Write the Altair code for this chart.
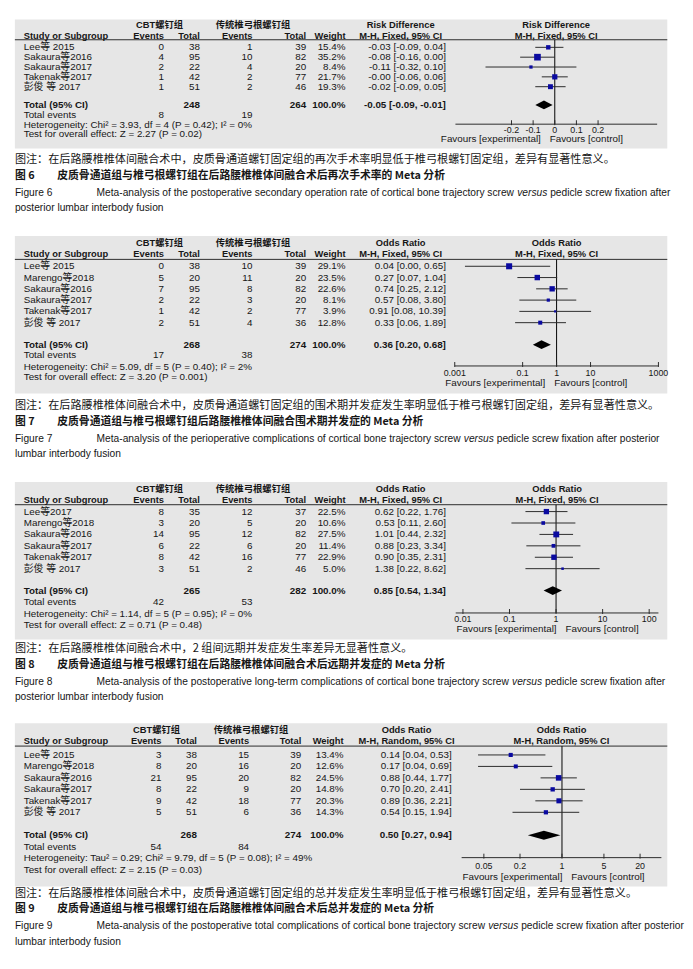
import altair as alt
import pandas as pd

# ---------------- data ----------------
# Figure 6
studies_6 = ["Lee等 2015", "Sakaura等2016", "Sakaura等2017", "Takenak等2017", "彭俊 等 2017"]
cbt_events_6 = [0, 4, 2, 1, 1]
cbt_total_6 = [38, 95, 22, 42, 51]
ctl_events_6 = [1, 10, 4, 2, 2]
ctl_total_6 = [39, 82, 20, 77, 46]
weight_6 = [15.4, 35.2, 8.4, 21.7, 19.3]
est_6 = [-0.03, -0.08, -0.11, -0.00, -0.02]
lo_6 = [-0.09, -0.16, -0.32, -0.06, -0.09]
hi_6 = [0.04, 0.00, 0.10, 0.06, 0.05]
overall_6 = [-0.05, -0.09, -0.01]
group_totals_6 = [248, 264]
total_events_6 = [8, 19]
het_6 = "Heterogeneity: Chi² = 3.93, df = 4 (P = 0.42); I² = 0%"
test_6 = "Test for overall effect: Z = 2.27 (P = 0.02)"
ticks_6 = [-0.2, -0.1, 0, 0.1, 0.2]
tick_labels_6 = ["-0.2", "-0.1", "0", "0.1", "0.2"]

# Figure 7
studies_7 = ["Lee等 2015", "Marengo等2018", "Sakaura等2016", "Sakaura等2017", "Takenak等2017", "彭俊 等 2017"]
cbt_events_7 = [0, 5, 7, 2, 1, 2]
cbt_total_7 = [38, 20, 95, 22, 42, 51]
ctl_events_7 = [10, 11, 8, 3, 2, 4]
ctl_total_7 = [39, 20, 82, 20, 77, 36]
weight_7 = [29.1, 23.5, 22.6, 8.1, 3.9, 12.8]
est_7 = [0.04, 0.27, 0.74, 0.57, 0.91, 0.33]
lo_7 = [0.002, 0.07, 0.25, 0.08, 0.08, 0.06]
hi_7 = [0.65, 1.04, 2.12, 3.80, 10.39, 1.89]
overall_7 = [0.36, 0.20, 0.68]
group_totals_7 = [268, 274]
total_events_7 = [17, 38]
het_7 = "Heterogeneity: Chi² = 5.09, df = 5 (P = 0.40); I² = 2%"
test_7 = "Test for overall effect: Z = 3.20 (P = 0.001)"
ticks_7 = [0.001, 0.1, 1, 10, 1000]
tick_labels_7 = ["0.001", "0.1", "1", "10", "1000"]

# Figure 8
studies_8 = ["Lee等2017", "Marengo等2018", "Sakaura等2016", "Sakaura等2017", "Takenak等2017", "彭俊 等 2017"]
cbt_events_8 = [8, 3, 14, 6, 8, 3]
cbt_total_8 = [35, 20, 95, 22, 42, 51]
ctl_events_8 = [12, 5, 12, 6, 16, 2]
ctl_total_8 = [37, 20, 82, 20, 77, 46]
weight_8 = [22.5, 10.6, 27.5, 11.4, 22.9, 5.0]
est_8 = [0.62, 0.53, 1.01, 0.88, 0.90, 1.38]
lo_8 = [0.22, 0.11, 0.44, 0.23, 0.35, 0.22]
hi_8 = [1.76, 2.60, 2.32, 3.34, 2.31, 8.62]
overall_8 = [0.85, 0.54, 1.34]
group_totals_8 = [265, 282]
total_events_8 = [42, 53]
het_8 = "Heterogeneity: Chi² = 1.14, df = 5 (P = 0.95); I² = 0%"
test_8 = "Test for overall effect: Z = 0.71 (P = 0.48)"
ticks_8 = [0.01, 0.1, 1, 10, 100]
tick_labels_8 = ["0.01", "0.1", "1", "10", "100"]

# Figure 9
studies_9 = ["Lee等 2015", "Marengo等2018", "Sakaura等2016", "Sakaura等2017", "Takenak等2017", "彭俊 等 2017"]
cbt_events_9 = [3, 8, 21, 8, 9, 5]
cbt_total_9 = [38, 20, 95, 22, 42, 51]
ctl_events_9 = [15, 16, 20, 9, 18, 6]
ctl_total_9 = [39, 20, 82, 20, 77, 36]
weight_9 = [13.4, 12.6, 24.5, 14.8, 20.3, 14.3]
est_9 = [0.14, 0.17, 0.88, 0.70, 0.89, 0.54]
lo_9 = [0.04, 0.04, 0.44, 0.20, 0.36, 0.15]
hi_9 = [0.53, 0.69, 1.77, 2.41, 2.21, 1.94]
overall_9 = [0.50, 0.27, 0.94]
group_totals_9 = [268, 274]
total_events_9 = [54, 84]
het_9 = "Heterogeneity: Tau² = 0.29; Chi² = 9.79, df = 5 (P = 0.08); I² = 49%"
test_9 = "Test for overall effect: Z = 2.15 (P = 0.03)"
ticks_9 = [0.05, 0.2, 1, 5, 20]
tick_labels_9 = ["0.05", "0.2", "1", "5", "20"]

# header texts
group_headers = ["CBT螺钉组", "传统椎弓根螺钉组"]
col_headers = ["Study or Subgroup", "Events", "Total", "Events", "Total", "Weight"]
measure_6 = ["Risk Difference", "M-H, Fixed, 95% CI"]
measure_7 = ["Odds Ratio", "M-H, Fixed, 95% CI"]
measure_8 = ["Odds Ratio", "M-H, Fixed, 95% CI"]
measure_9 = ["Odds Ratio", "M-H, Random, 95% CI"]
summary_labels = ["Total (95% CI)", "Total events"]
favours_labels = ["Favours [experimental]", "Favours [control]"]

# captions
note_6 = "图注：在后路腰椎椎体间融合术中，皮质骨通道螺钉固定组的再次手术率明显低于椎弓根螺钉固定组，差异有显著性意义。"
note_7 = "图注：在后路腰椎椎体间融合术中，皮质骨通道螺钉固定组的围术期并发症发生率明显低于椎弓根螺钉固定组，差异有显著性意义。"
note_8 = "图注：在后路腰椎椎体间融合术中，2 组间远期并发症发生率差异无显著性意义。"
note_9 = "图注：在后路腰椎椎体间融合术中，皮质骨通道螺钉固定组的总并发症发生率明显低于椎弓根螺钉固定组，差异有显著性意义。"
title_cn_6 = ["图 6", "皮质骨通道组与椎弓根螺钉组在后路腰椎椎体间融合术后再次手术率的 Meta 分析"]
title_cn_7 = ["图 7", "皮质骨通道组与椎弓根螺钉组后路腰椎椎体间融合围术期并发症的 Meta 分析"]
title_cn_8 = ["图 8", "皮质骨通道组与椎弓根螺钉组在后路腰椎椎体间融合术后远期并发症的 Meta 分析"]
title_cn_9 = ["图 9", "皮质骨通道组与椎弓根螺钉组在后路腰椎椎体间融合术后总并发症的 Meta 分析"]
title_en_6 = ["Figure 6", "Meta-analysis of the postoperative secondary operation rate of cortical bone trajectory screw ",
              "versus", " pedicle screw fixation after", "posterior lumbar interbody fusion"]
title_en_7 = ["Figure 7", "Meta-analysis of the perioperative complications of cortical bone trajectory screw ",
              "versus", " pedicle screw fixation after posterior", "lumbar interbody fusion"]
title_en_8 = ["Figure 8", "Meta-analysis of the postoperative long-term complications of cortical bone trajectory screw ",
              "versus", " pedicle screw fixation after", "posterior lumbar interbody fusion"]
title_en_9 = ["Figure 9", "Meta-analysis of the postoperative total complications of cortical bone trajectory screw ",
              "versus", " pedicle screw fixation after posterior", "lumbar interbody fusion"]

# ---------------- styling / layout ----------------
W = 663
BG = "#e6e6e6"
TXT = "#161616"
BLUE = "#0a0aa0"
LINE = "#2a2a2a"
FONT = "Liberation Sans, Arial, Noto Sans CJK SC, sans-serif"
CJK = "Noto Sans CJK SC, sans-serif"
FS = 10
HDR_FS = 9.5
TICK_FS = 9
NOTE_FS = 11.3
CNT_FS = 11

COLS_A = dict(study=9, e1=151.5, t1=188, e2=241.5, t2=296, w=336, eff=438, cbt_hdr=147, ctl_hdr=242, eff_hdr=392)
COLS_B = dict(study=9, e1=149, t1=185, e2=238, t2=291, w=334, eff=444, cbt_hdr=144, ctl_hdr=240, eff_hdr=398)

L6 = dict(H=131, hdr1=5.8, hdr2=16.6, hline=20.5, y0=28.2, dy=10.0, tot=5.85, ev=6.88, het=7.88, test=8.81,
          axis=7.81, lab_off=6.0, fav_off=15.2, xdom=[-0.459, 0.473], xrange=[447.7, 652.7], log=False,
          null=0, fav_mid=539, fhdr=550, cols=COLS_A)
L7 = dict(H=160, hdr1=7, hdr2=18.7, hline=23.7, y0=30.7, dy=11.46, tot=6.95, ev=7.9, het=8.9, test=9.86,
          axis=8.84, lab_off=7, fav_off=17, xdom=[0.001, 1000], xrange=[447, 654], log=True,
          null=1, fav_mid=543.5, fhdr=550.5, cols=COLS_A)
L8 = dict(H=160, hdr1=7, hdr2=18, hline=23, y0=30, dy=11.6, tot=6.92, ev=7.96, het=8.97, test=9.97,
          axis=8.88, lab_off=6.5, fav_off=16.7, xdom=[0.007, 158], xrange=[448, 654], log=True,
          null=1, fav_mid=555, fhdr=551, cols=COLS_A)
L9 = dict(H=166, hdr1=7.3, hdr2=18.3, hline=23.3, y0=32.3, dy=11.66, tot=7.0, ev=8.04, het=9.03, test=10.03,
          axis=8.95, lab_off=8.4, fav_off=20, xdom=[0.0213, 45.3], xrange=[454, 657], log=True,
          null=1, fav_mid=561, fhdr=555.5, cols=COLS_B)

CAP6 = dict(H=89, y=[12, 28, 45, 61])
CAP7 = dict(H=90, y=[13, 29, 46, 62])
CAP8 = dict(H=85, y=[10, 26, 43, 58])
CAP9 = dict(H=72, y=[8, 23, 40, 56])

# Arial / Liberation Sans advance widths (1/1000 em), used to place the italic word
AW = {' ': 278, '-': 333, ',': 278, '.': 278, '(': 333, ')': 333}
AW.update({c: 556 for c in "0123456789"})
AW.update(dict(zip("ABCDEFGHIJKLMNOPQRSTUVWXYZ",
                   [667, 667, 722, 722, 667, 611, 778, 722, 278, 500, 667, 556, 833, 722, 778, 667, 778, 722,
                    667, 611, 722, 667, 944, 667, 667, 611])))
AW.update(dict(zip("abcdefghijklmnopqrstuvwxyz",
                   [556, 556, 500, 556, 556, 278, 556, 556, 222, 222, 500, 222, 833, 556, 556, 556, 556, 333,
                    500, 278, 556, 500, 722, 500, 500, 500])))


def em(s):
    return sum(AW.get(c, 556) for c in s) / 1000.0


EN_X = 83
EN_END = 666
EN_FS = round((EN_END - EN_X) / em(title_en_6[1] + title_en_6[2] + title_en_6[3]), 2)
CN_X = 43


def fmt_ci(e, l, h):
    return f"{e:.2f} [{l:.2f}, {h:.2f}]"


def txt(df, field, x, y, align="left", bold=False, size=FS, font=FONT, color=TXT, italic=False):
    return alt.Chart(df).mark_text(
        align=align, baseline="middle", font=font, fontSize=size,
        fontWeight="bold" if bold else "normal", fontStyle="italic" if italic else "normal", color=color
    ).encode(x=alt.value(x), y=y, text=alt.Text(f"{field}:N"))


def one(t):
    return pd.DataFrame({"t": [t]})


def build_panel(d, L):
    C = L["cols"]
    n = len(d["studies"])
    ys = alt.Scale(domain=[0, 1], range=[L["y0"], L["y0"] + L["dy"]], nice=False, zero=False)
    if L["log"]:
        xs = alt.Scale(type="log", domain=L["xdom"], range=L["xrange"], nice=False)
    else:
        xs = alt.Scale(domain=L["xdom"], range=L["xrange"], nice=False, zero=False)

    def ypx(r):
        return L["y0"] + L["dy"] * r

    Yr = alt.Y("row:Q", scale=ys, axis=None)
    tab = pd.DataFrame({
        "row": list(range(n)),
        "study": d["studies"],
        "e1": [str(v) for v in d["e1"]],
        "t1": [str(v) for v in d["t1"]],
        "e2": [str(v) for v in d["e2"]],
        "t2": [str(v) for v in d["t2"]],
        "w": [f"{v:.1f}%" for v in d["weight"]],
        "ci": [fmt_ci(e, l, h) for e, l, h in zip(d["est"], d["lo"], d["hi"])],
        "est": d["est"], "lo": d["lo"], "hi": d["hi"], "wt": d["weight"],
    })
    ov = d["overall"]
    tot = pd.DataFrame({"row": [L["tot"]], "lab": [summary_labels[0]],
                        "t1": [str(d["totals"][0])], "t2": [str(d["totals"][1])],
                        "w": ["100.0%"], "ci": [fmt_ci(*ov)]})
    ev = pd.DataFrame({"row": [L["ev"]], "lab": [summary_labels[1]],
                       "e1": [str(d["tev"][0])], "e2": [str(d["tev"][1])]})
    het = pd.DataFrame({"row": [L["het"]], "t": [d["het"]]})
    tst = pd.DataFrame({"row": [L["test"]], "t": [d["test"]]})

    layers = []
    layers.append(alt.Chart(one("")).mark_rule(color=LINE, strokeWidth=1).encode(
        x=alt.value(0), x2=alt.value(W), y=alt.value(L["hline"])))
    h1 = alt.value(L["hdr1"])
    h2 = alt.value(L["hdr2"])
    layers.append(txt(one(group_headers[0]), "t", C["cbt_hdr"], h1, "center", True, size=HDR_FS))
    layers.append(txt(one(group_headers[1]), "t", C["ctl_hdr"], h1, "center", True, size=HDR_FS))
    layers.append(txt(one(d["measure"][0]), "t", C["eff_hdr"], h1, "center", True, size=HDR_FS))
    layers.append(txt(one(d["measure"][0]), "t", L["fhdr"], h1, "center", True, size=HDR_FS))
    layers.append(txt(one(col_headers[0]), "t", C["study"], h2, "left", True, size=HDR_FS))
    layers.append(txt(one(col_headers[1]), "t", C["e1"], h2, "right", True, size=HDR_FS))
    layers.append(txt(one(col_headers[2]), "t", C["t1"], h2, "right", True, size=HDR_FS))
    layers.append(txt(one(col_headers[3]), "t", C["e2"], h2, "right", True, size=HDR_FS))
    layers.append(txt(one(col_headers[4]), "t", C["t2"], h2, "right", True, size=HDR_FS))
    layers.append(txt(one(col_headers[5]), "t", C["w"], h2, "right", True, size=HDR_FS))
    layers.append(txt(one(d["measure"][1]), "t", C["eff_hdr"], h2, "center", True, size=HDR_FS))
    layers.append(txt(one(d["measure"][1]), "t", L["fhdr"], h2, "center", True, size=HDR_FS))
    layers.append(txt(tab, "study", C["study"], Yr, "left"))
    for f in ["e1", "t1", "e2", "t2", "w"]:
        layers.append(txt(tab, f, C[f], Yr, "right"))
    layers.append(txt(tab, "ci", C["eff"], Yr, "right"))
    layers.append(txt(tot, "lab", C["study"], Yr, "left", True))
    for f in ["t1", "t2", "w"]:
        layers.append(txt(tot, f, C[f], Yr, "right", True))
    layers.append(txt(tot, "ci", C["eff"], Yr, "right", True))
    layers.append(txt(ev, "lab", C["study"], Yr, "left"))
    layers.append(txt(ev, "e1", C["e1"], Yr, "right"))
    layers.append(txt(ev, "e2", C["e2"], Yr, "right"))
    layers.append(txt(het, "t", C["study"], Yr, "left"))
    layers.append(txt(tst, "t", C["study"], Yr, "left"))

    ax_y = ypx(L["axis"])
    layers.append(alt.Chart(pd.DataFrame({"v": [L["null"]]})).mark_rule(color="black", strokeWidth=1).encode(
        x=alt.X("v:Q", scale=xs, axis=None), y=alt.value(L["hline"]), y2=alt.value(ax_y)))
    layers.append(alt.Chart(tab).mark_rule(color=LINE, strokeWidth=1).encode(
        x=alt.X("lo:Q", scale=xs, axis=None), x2="hi:Q", y=Yr))
    layers.append(alt.Chart(tab).mark_square(color=BLUE, filled=True, opacity=1).encode(
        x=alt.X("est:Q", scale=xs, axis=None), y=Yr,
        size=alt.Size("wt:Q", scale=alt.Scale(domain=[0, 40], range=[0, 52]), legend=None)))
    hh = 4.5 / L["dy"]
    r = L["tot"]
    dia = pd.DataFrame({"x": [ov[1], ov[0], ov[2]], "ya": [r, r - hh, r], "yb": [r, r + hh, r]})
    layers.append(alt.Chart(dia).mark_area(color="black", orient="vertical", opacity=1).encode(
        x=alt.X("x:Q", scale=xs, axis=None), y=alt.Y("ya:Q", scale=ys, axis=None), y2="yb:Q"))
    layers.append(alt.Chart(pd.DataFrame({"a": [L["xdom"][0]], "b": [L["xdom"][1]]})).mark_rule(
        color=LINE, strokeWidth=1).encode(x=alt.X("a:Q", scale=xs, axis=None), x2="b:Q", y=alt.value(ax_y)))
    tk = pd.DataFrame({"v": d["ticks"], "lab": d["tick_labels"]})
    layers.append(alt.Chart(tk).mark_rule(color=LINE, strokeWidth=1).encode(
        x=alt.X("v:Q", scale=xs, axis=None), y=alt.value(ax_y - 4), y2=alt.value(ax_y + 1)))
    layers.append(alt.Chart(tk).mark_text(align="center", baseline="middle", font=FONT, fontSize=TICK_FS,
                                          color=TXT).encode(
        x=alt.X("v:Q", scale=xs, axis=None), y=alt.value(ax_y + L["lab_off"]), text="lab:N"))
    fy = alt.value(ax_y + L["fav_off"])
    layers.append(txt(one(favours_labels[0]), "t", L["fav_mid"] - 4.5, fy, "right"))
    layers.append(txt(one(favours_labels[1]), "t", L["fav_mid"] + 4.5, fy, "left"))

    return alt.layer(*layers).properties(width=W, height=L["H"],
                                         view=alt.ViewBackground(fill=BG, strokeWidth=0))


def build_caption(note, cn, en, CP):
    y = CP["y"]
    layers = [
        txt(one(note), "t", 0, alt.value(y[0]), size=NOTE_FS, font=CJK),
        txt(one(cn[0]), "t", 0, alt.value(y[1]), size=CNT_FS, font=CJK, bold=True),
        txt(one(cn[1]), "t", CN_X, alt.value(y[1]), size=CNT_FS, font=CJK, bold=True),
        txt(one(en[0]), "t", 0, alt.value(y[2]), size=EN_FS, font=FONT),
    ]
    xa = EN_X
    xb = xa + em(en[1]) * EN_FS
    xc = xb + em(en[2]) * EN_FS + AW[' '] / 1000.0 * EN_FS
    layers.append(txt(one(en[1].strip()), "t", xa, alt.value(y[2]), size=EN_FS, font=FONT))
    layers.append(txt(one(en[2]), "t", xb, alt.value(y[2]), size=EN_FS, font=FONT, italic=True))
    layers.append(txt(one(en[3].strip()), "t", xc, alt.value(y[2]), size=EN_FS, font=FONT))
    layers.append(txt(one(en[4]), "t", 0, alt.value(y[3]), size=EN_FS, font=FONT))
    return alt.layer(*layers).properties(width=W, height=CP["H"])


def fig(studies, e1, t1, e2, t2, weight, est, lo, hi, overall, totals, tev, het, test, ticks, tick_labels, measure):
    return dict(studies=studies, e1=e1, t1=t1, e2=e2, t2=t2, weight=weight, est=est, lo=lo, hi=hi,
                overall=overall, totals=totals, tev=tev, het=het, test=test, ticks=ticks,
                tick_labels=tick_labels, measure=measure)


F6 = fig(studies_6, cbt_events_6, cbt_total_6, ctl_events_6, ctl_total_6, weight_6, est_6, lo_6, hi_6,
         overall_6, group_totals_6, total_events_6, het_6, test_6, ticks_6, tick_labels_6, measure_6)
F7 = fig(studies_7, cbt_events_7, cbt_total_7, ctl_events_7, ctl_total_7, weight_7, est_7, lo_7, hi_7,
         overall_7, group_totals_7, total_events_7, het_7, test_7, ticks_7, tick_labels_7, measure_7)
F8 = fig(studies_8, cbt_events_8, cbt_total_8, ctl_events_8, ctl_total_8, weight_8, est_8, lo_8, hi_8,
         overall_8, group_totals_8, total_events_8, het_8, test_8, ticks_8, tick_labels_8, measure_8)
F9 = fig(studies_9, cbt_events_9, cbt_total_9, ctl_events_9, ctl_total_9, weight_9, est_9, lo_9, hi_9,
         overall_9, group_totals_9, total_events_9, het_9, test_9, ticks_9, tick_labels_9, measure_9)

chart = alt.vconcat(
    build_panel(F6, L6), build_caption(note_6, title_cn_6, title_en_6, CAP6),
    build_panel(F7, L7), build_caption(note_7, title_cn_7, title_en_7, CAP7),
    build_panel(F8, L8), build_caption(note_8, title_cn_8, title_en_8, CAP8),
    build_panel(F9, L9), build_caption(note_9, title_cn_9, title_en_9, CAP9),
    spacing=0, bounds="flush",
).properties(
    padding={"left": 6, "top": 4, "right": 0, "bottom": 0}, background="white"
).configure_view(strokeWidth=0)

chart.save("out.html", embed_options={"renderer": "svg", "actions": False})
